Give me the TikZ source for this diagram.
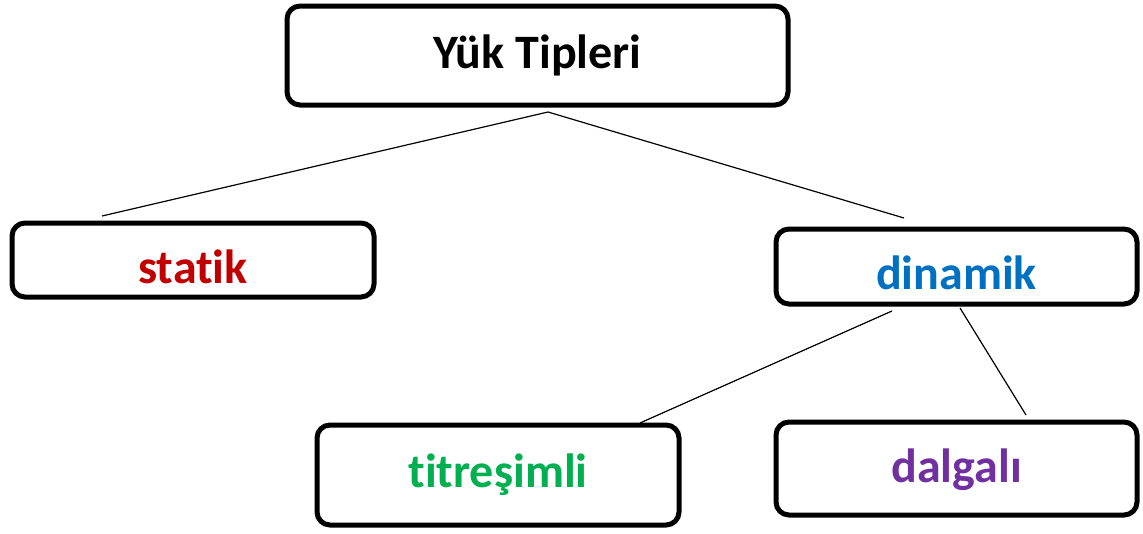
\documentclass[tikz,border=0pt]{standalone}
\usepackage{fontspec}
\setmainfont[Ligatures=NoCommon, RawFeature={-liga;-clig;-dlig}]{Carlito}
\definecolor{cRed}{HTML}{C00000}
\definecolor{cBlue}{HTML}{0070C0}
\definecolor{cGreen}{HTML}{00B050}
\definecolor{cPurple}{HTML}{7030A0}
\tikzset{
  box/.style={draw=black, line width=5pt, rounded corners=13pt, fill=white,
    inner sep=0pt, text depth=0pt,
    font=\fontsize{48}{58}\selectfont\bfseries},
  conn/.style={draw=black, line width=1.2pt}
}
\begin{document}
\begin{tikzpicture}[x=1pt, y=-1pt]
\useasboundingbox (0,0) rectangle (1143,533);
% boxes
\node[box, minimum width=501pt, minimum height=99pt, text height=25pt] (top) at (537.5,55.5) {Yük Tipleri};
\node[box, minimum width=362pt, minimum height=74pt, text height=46pt, text=cRed] (statik) at (193,260) {statik};
\node[box, minimum width=361pt, minimum height=75pt, text height=45pt, text=cBlue] (dinamik) at (956.5,266.5) {dinamik};
\node[box, minimum width=362pt, minimum height=100pt, text height=24pt, text=cGreen] (titre) at (498,475) {titreşimli};
\node[box, minimum width=361pt, minimum height=93pt, text height=27pt, text=cPurple] (dalga) at (956.5,468.5) {dalgalı};
% connector ends
\coordinate (topEnd) at (548,112);
\coordinate (statikEnd) at (102,216);
\coordinate (dinTop) at (904,218);
\coordinate (dinL) at (892,311);
\coordinate (dinR) at (960,308);
\coordinate (titreEnd) at (640,423);
\coordinate (dalgaEnd) at (1026,415);
% connectors
\draw[conn] (topEnd) -- (statikEnd);
\draw[conn] (topEnd) -- (dinTop);
\draw[conn] (dinL) -- (titreEnd);
\draw[conn] (dinR) -- (dalgaEnd);
\end{tikzpicture}
\end{document}
